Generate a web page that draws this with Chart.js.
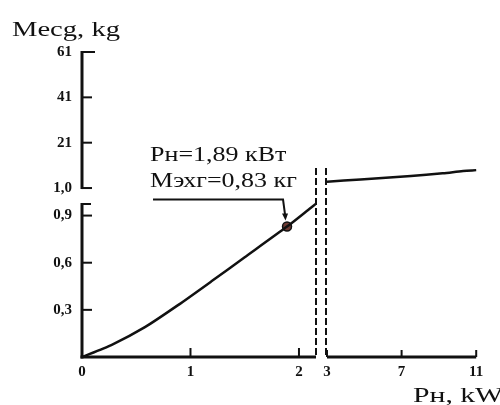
<!DOCTYPE html>
<html>
<head>
<meta charset="utf-8">
<script src="https://cdn.jsdelivr.net/npm/chart.js@4.4.0/dist/chart.umd.min.js"></script>
<style>
  html, body { margin: 0; padding: 0; background: #fff; }
  #wrap { width: 500px; height: 405px; position: relative; }
</style>
</head>
<body>
<div id="wrap"><canvas id="grafico"></canvas></div>
<script>
// DADOS
const powerLow = [0, 0.27, 0.58, 0.885, 1.19, 1.5, 1.89, 2.11, 2.157];
const massLow = [0, 0.076, 0.19, 0.33, 0.48, 0.635, 0.83, 0.95, 0.975];
const powerHigh = [3, 4.8, 7.5, 9.2, 10.3, 11];
const massHigh = [3.8, 4.8, 6.3, 7.5, 8.5, 8.9];
const markPower = 1.89;
const markMass = 0.83;

const lowPowerTicks = [0, 1, 2];
const highPowerTicks = [3, 7, 11];
const lowMassTicks = [0.3, 0.6, 0.9];
const lowMassLabels = ['0,3', '0,6', '0,9'];
const highMassTicks = [1, 21, 41, 61];
const highMassLabels = ['1,0', '21', '41', '61'];

const yTitle = 'Mecg, kg';
const xTitle = 'Pн, kW';
const noteLines = ['Рн=1,89 кВт', 'Мэхг=0,83 кг'];

const ink = '#111';
const tickFont = { family: 'Liberation Serif', size: 15, weight: 'bold' };

function fixedTicks(values) {
    return scale => { scale.ticks = values.map(v => ({ value: v })); };
}

function lineTo(ctx, x1, y1, x2, y2) {
    ctx.beginPath();
    ctx.moveTo(x1, y1);
    ctx.lineTo(x2, y2);
    ctx.stroke();
}

function stretchedText(ctx, text, x, y, size, sx) {
    ctx.save();
    ctx.font = size + 'px "Liberation Serif"';
    ctx.translate(x, y);
    ctx.scale(sx, 1);
    ctx.fillText(text, 0, 0);
    ctx.restore();
}

// EIXOS, QUEBRAS E ANOTAÇÃO
const decor = {
    id: 'decor',
    afterDatasetsDraw(chart) {
        const { ctx, scales: { xL, xR, yLow, yHigh } } = chart;
        const x0 = xL.getPixelForValue(0);
        const y0 = yLow.getPixelForValue(0);
        ctx.save();
        ctx.strokeStyle = ink;
        ctx.fillStyle = ink;

        // eixo y inferior
        ctx.lineWidth = 3;
        lineTo(ctx, x0, y0 + 1.5, x0, yLow.top);
        ctx.lineWidth = 2;
        lineTo(ctx, x0, yLow.top + 1, x0 + 9, yLow.top + 1);
        lowMassTicks.forEach(v => {
            const y = yLow.getPixelForValue(v);
            lineTo(ctx, x0, y, x0 + 10, y);
        });

        // eixo y superior (colchete)
        const yTop = yHigh.getPixelForValue(highMassTicks[highMassTicks.length - 1]);
        const yBot = yHigh.getPixelForValue(highMassTicks[0]);
        ctx.lineWidth = 3;
        lineTo(ctx, x0, yTop - 1, x0, yBot + 1);
        ctx.lineWidth = 2;
        lineTo(ctx, x0, yTop, x0 + 13, yTop);
        lineTo(ctx, x0, yBot, x0 + 10, yBot);
        highMassTicks.slice(1, -1).forEach(v => {
            const y = yHigh.getPixelForValue(v);
            lineTo(ctx, x0, y, x0 + 10, y);
        });

        // eixo x esquerdo
        ctx.lineWidth = 3;
        lineTo(ctx, x0 - 1.5, y0, xL.right, y0);
        ctx.lineWidth = 2;
        lowPowerTicks.slice(1).forEach(v => {
            const x = xL.getPixelForValue(v);
            lineTo(ctx, x, y0, x, y0 - 9);
        });

        // eixo x direito
        const xr0 = xR.getPixelForValue(highPowerTicks[0]);
        const xr1 = xR.getPixelForValue(highPowerTicks[highPowerTicks.length - 1]);
        ctx.lineWidth = 3;
        lineTo(ctx, xr0, y0, xr1, y0);
        ctx.lineWidth = 2;
        highPowerTicks.forEach(v => {
            const x = xR.getPixelForValue(v);
            lineTo(ctx, x, y0, x, y0 - 7);
        });

        // linhas de quebra
        const breakTop = yLow.top - 37;
        ctx.lineWidth = 2;
        ctx.setLineDash([7, 3]);
        lineTo(ctx, xL.right, y0 - 2, xL.right, breakTop);
        lineTo(ctx, xr0 - 1, y0 - 2, xr0 - 1, breakTop);
        ctx.setLineDash([]);

        // anotação do ponto nominal
        const mx = xL.getPixelForValue(markPower);
        const my = yLow.getPixelForValue(markMass);
        ctx.lineWidth = 2;
        ctx.beginPath();
        ctx.moveTo(mx - 134, my - 27);
        ctx.lineTo(mx - 4, my - 27);
        ctx.lineTo(mx - 2, my - 12);
        ctx.stroke();
        ctx.beginPath();
        ctx.moveTo(mx - 5, my - 13);
        ctx.lineTo(mx + 1, my - 13);
        ctx.lineTo(mx - 1.5, my - 6);
        ctx.closePath();
        ctx.fill();

        ctx.textBaseline = 'alphabetic';
        ctx.textAlign = 'left';
        stretchedText(ctx, noteLines[0], mx - 137, my - 66, 20, 1.3);
        stretchedText(ctx, noteLines[1], mx - 137, my - 40, 20, 1.3);

        // títulos dos eixos
        stretchedText(ctx, yTitle, 12, 36, 20, 1.43);
        stretchedText(ctx, xTitle, 413, 402, 22, 1.35);
        ctx.restore();
    }
};

// GRÁFICO
const ctx = document.getElementById('grafico').getContext('2d');
new Chart(ctx, {
    type: 'line',
    data: {
        datasets: [
            {
                data: powerLow.map((p, i) => ({ x: p, y: massLow[i] })),
                xAxisID: 'xL', yAxisID: 'yLow',
                borderColor: ink, borderWidth: 2.5,
                pointRadius: 0, tension: 0.2
            },
            {
                data: powerHigh.map((p, i) => ({ x: p, y: massHigh[i] })),
                xAxisID: 'xR', yAxisID: 'yHigh',
                borderColor: ink, borderWidth: 2.5,
                pointRadius: 0, tension: 0.3
            },
            {
                data: [{ x: markPower, y: markMass }],
                xAxisID: 'xL', yAxisID: 'yLow',
                showLine: false,
                pointRadius: 4.5,
                pointBackgroundColor: '#6e3a32',
                pointBorderColor: ink,
                pointBorderWidth: 1.5
            }
        ]
    },
    options: {
        responsive: true,
        maintainAspectRatio: false,
        animation: false,
        devicePixelRatio: 1,
        layout: { padding: { top: 52, left: 8, right: 21, bottom: 0 } },
        plugins: { legend: { display: false }, tooltip: { enabled: false } },
        scales: {
            xL: {
                type: 'linear', position: 'bottom', stack: 'p', stackWeight: 234,
                min: 0, max: 2.157,
                afterBuildTicks: fixedTicks(lowPowerTicks),
                afterFit: s => { s.height = 48; },
                ticks: { font: tickFont, color: ink, padding: 6, maxRotation: 0, autoSkip: false },
                grid: { display: false, drawTicks: false },
                border: { display: false }
            },
            xR: {
                type: 'linear', position: 'bottom', stack: 'p', stackWeight: 163,
                min: 2.41, max: 11.15,
                afterBuildTicks: fixedTicks(highPowerTicks),
                afterFit: s => { s.height = 48; },
                ticks: { font: tickFont, color: ink, padding: 6, maxRotation: 0, autoSkip: false },
                grid: { display: false, drawTicks: false },
                border: { display: false }
            },
            yLow: {
                type: 'linear', position: 'left', stack: 'm', stackWeight: 154,
                min: 0, max: 0.98,
                afterBuildTicks: fixedTicks(lowMassTicks),
                afterFit: s => { s.width = 74; },
                ticks: {
                    font: tickFont, color: ink, padding: 10, autoSkip: false,
                    callback: v => lowMassLabels[lowMassTicks.indexOf(v)]
                },
                grid: { display: false, drawTicks: false },
                border: { display: false }
            },
            yHigh: {
                type: 'linear', position: 'left', stack: 'm', stackWeight: 151,
                min: -5.6, max: 61,
                afterBuildTicks: fixedTicks(highMassTicks),
                afterFit: s => { s.width = 74; },
                ticks: {
                    font: tickFont, color: ink, padding: 10, autoSkip: false,
                    callback: v => highMassLabels[highMassTicks.indexOf(v)]
                },
                grid: { display: false, drawTicks: false },
                border: { display: false }
            }
        }
    },
    plugins: [decor]
});
</script>
</body>
</html>
